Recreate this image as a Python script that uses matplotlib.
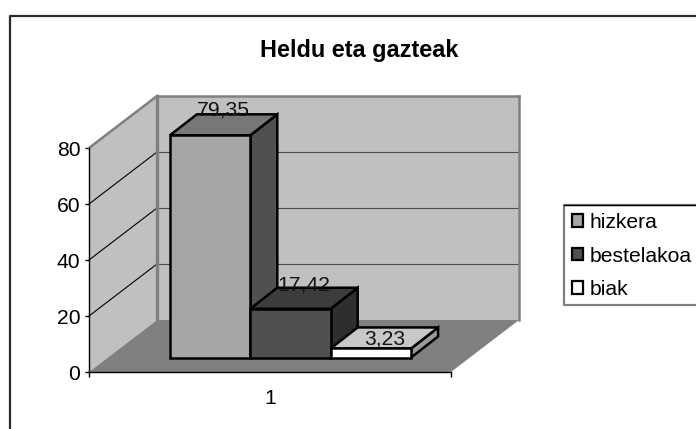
from matplotlib import pyplot as plt
from matplotlib.lines import Line2D
from matplotlib.patches import Polygon, Rectangle
from matplotlib.transforms import Affine2D, IdentityTransform

plt.rcParams['font.family'] = ['Liberation Sans', 'DejaVu Sans']

title = "Heldu eta gazteak"
categories = ["1"]
series_names = ["hizkera", "bestelakoa", "biak"]
series_values = [79.35, 17.42, 3.23]
value_labels = ["79,35", "17,42", "3,23"]
y_ticks = [0, 20, 40, 60, 80]

front_colors = ["#a6a6a6", "#505050", "#ffffff"]
top_colors = ["#777777", "#3c3c3c", "#c8c8c8"]
side_colors = ["#505050", "#2e2e2e", "#999999"]
label_lift = [25, 24, 9]  # px above the front top edge

FONT = 15.2
WALL = (68, 52)  # depth of the floor in px
BAR = (27, 21)  # depth of a bar in px
BAR_BASE = (20.5, 14.5)  # where the bars stand on the floor
BAR_W = 80.4 / 362

fig = plt.figure(figsize=(6.96, 4.29), dpi=100)
ax = fig.add_axes([89 / 696, (429 - 372) / 429, 362 / 696, 224 / 429])
ax.set_xlim(0, 1)
ax.set_ylim(0, 80)
ax.patch.set_visible(False)


def px(x, v, dx=0, dy=0):
    p = ax.transData.transform((x, v))
    return p[0] + dx, p[1] + dy


def poly(points, color, edge="none", lw=0, z=1):
    ax.add_patch(Polygon(points, closed=True, facecolor=color, edgecolor=edge, linewidth=lw,
                         transform=IdentityTransform(), clip_on=False, zorder=z, joinstyle="miter"))


def line(p0, p1, color, lw, z=2):
    ax.add_line(Line2D([p0[0], p1[0]], [p0[1], p1[1]], color=color, linewidth=lw,
                       transform=IdentityTransform(), clip_on=False, zorder=z))


# walls and floor
dx, dy = WALL
poly([px(0, 0, dx, dy), px(1, 0, dx, dy), px(1, 80, dx, dy), px(0, 80, dx, dy)], "#c0c0c0")
poly([px(0, 0), px(0, 80), px(0, 80, dx, dy), px(0, 0, dx, dy)], "#c0c0c0")
poly([px(0, 0), px(1, 0), px(1, 0, dx, dy), px(0, 0, dx, dy)], "#808080")

for v in y_ticks[1:-1]:
    line(px(0, v, dx, dy), px(1, v, dx, dy), "#4d4d4d", 0.8)
    line(px(0, v), px(0, v, dx, dy), "black", 0.8)

line(px(0, 80), px(0, 80, dx, dy), "#808080", 1.8)
line(px(0, 80, dx, dy), px(1, 80, dx, dy), "#808080", 1.8)
line(px(0, 0, dx, dy), px(0, 80, dx, dy), "#808080", 2.4)
line(px(1, 0, dx, dy), px(1, 80, dx, dy), "#808080", 1.8)

# bars, each one drawn over the side of the one before
base_tf = ax.transData + Affine2D().translate(*BAR_BASE)
bar_x = [0.5 + (i - 1) * BAR_W for i in range(len(series_values))]
bx, by = BAR
for i, (name, v) in enumerate(zip(series_names, series_values)):
    x0 = bar_x[i] - BAR_W / 2
    x1 = bar_x[i] + BAR_W / 2
    z = 5 + i * 0.1
    poly([px(x1, 0, *BAR_BASE), px(x1, v, *BAR_BASE),
          px(x1, v, BAR_BASE[0] + bx, BAR_BASE[1] + by), px(x1, 0, BAR_BASE[0] + bx, BAR_BASE[1] + by)],
         side_colors[i], "black", 1.8, z)
    poly([px(x0, v, *BAR_BASE), px(x1, v, *BAR_BASE),
          px(x1, v, BAR_BASE[0] + bx, BAR_BASE[1] + by), px(x0, v, BAR_BASE[0] + bx, BAR_BASE[1] + by)],
         top_colors[i], "black", 1.8, z)
    ax.bar(bar_x[i], v, BAR_W, color=front_colors[i], edgecolor="black", linewidth=1.8,
           transform=base_tf, clip_on=False, zorder=z + 0.01, label=name)

for i, v in enumerate(series_values):
    x, y = px(bar_x[i], v, BAR_BASE[0] + 13.5, BAR_BASE[1] + label_lift[i])
    ax.text(x, y, value_labels[i], transform=IdentityTransform(), ha="center", va="center",
            fontsize=FONT, color="#111111", zorder=10, clip_on=False)

ax.set_xlim(0, 1)
ax.set_ylim(0, 80)

# axes
for s in ["top", "right"]:
    ax.spines[s].set_visible(False)
ax.spines["left"].set_linewidth(1.0)
ax.spines["bottom"].set_linewidth(1.0)
ax.spines["bottom"].set_zorder(3)
ax.set_yticks(y_ticks)
ax.set_xticks([0, 1], ["", ""])
ax.set_xticks([0.5], categories, minor=True)
ax.tick_params(axis="y", length=4.5 * 0.72, width=1.0, pad=3, labelsize=FONT)
ax.tick_params(axis="x", which="major", length=4.5 * 0.72, width=1.0)
ax.tick_params(axis="x", which="minor", length=0, pad=12, labelsize=FONT)

fig.text(359.5 / 696, 1 - 50 / 429, title, ha="center", va="center", fontsize=16.9, fontweight="bold",
         color="black")

# outer frame, open on the right and at the bottom
fig.add_artist(Line2D([10 / 696, 10 / 696, 1], [0, 1 - 16 / 429, 1 - 16 / 429], color="#2a2a2a", linewidth=1.6,
                      transform=fig.transFigure))

# legend box, open on the right
fig.add_artist(Line2D([1, 564 / 696, 564 / 696, 1], [1 - 205 / 429, 1 - 205 / 429, 1 - 305 / 429, 1 - 305 / 429],
                      color="#808080", linewidth=1.6, transform=fig.transFigure))
fig.add_artist(Line2D([564 / 696, 1], [1 - 205 / 429, 1 - 205 / 429], color="black", linewidth=1.0,
                      transform=fig.transFigure))
handles = [Rectangle((0, 0), 1, 1, facecolor=c, edgecolor="black", linewidth=1.6) for c in front_colors]
fig.legend(handles, series_names, loc="upper left", bbox_to_anchor=(567.5 / 696, 1 - 209 / 429), frameon=False,
           fontsize=FONT, handlelength=0.55, handleheight=0.55, handletextpad=0.3, labelspacing=0.68,
           borderaxespad=0, borderpad=0.2)

fig.savefig("out.png", dpi=100)
